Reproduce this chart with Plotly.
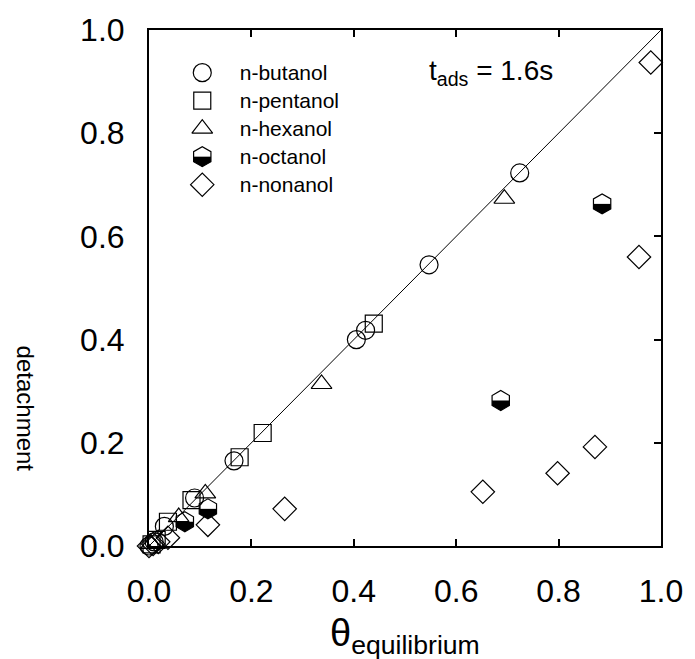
import plotly.graph_objects as go

# ---------------- data ----------------
series_names = ["n-butanol", "n-pentanol", "n-hexanol", "n-octanol", "n-nonanol"]

butanol_x = [0.0, 0.010, 0.030, 0.089, 0.166, 0.405, 0.423, 0.547, 0.724]
butanol_y = [0.0, 0.008, 0.038, 0.093, 0.165, 0.400, 0.418, 0.545, 0.723]

pentanol_x = [0.005, 0.015, 0.037, 0.083, 0.177, 0.222, 0.439]
pentanol_y = [0.003, 0.012, 0.047, 0.089, 0.172, 0.219, 0.431]

hexanol_x = [0.004, 0.058, 0.110, 0.337, 0.694]
hexanol_y = [0.004, 0.056, 0.102, 0.314, 0.673]

octanol_x = [0.070, 0.115, 0.687, 0.885]
octanol_y = [0.047, 0.072, 0.282, 0.663]

nonanol_x = [0.0, 0.008, 0.018, 0.037, 0.115, 0.265, 0.652, 0.798, 0.871, 0.957, 0.980]
nonanol_y = [0.0, 0.004, 0.008, 0.016, 0.041, 0.072, 0.105, 0.141, 0.192, 0.560, 0.937]

diag_x = [0.0, 1.0]
diag_y = [0.0, 1.0]

tick_vals = [0.0, 0.2, 0.4, 0.6, 0.8, 1.0]
tick_text = ["0.0", "0.2", "0.4", "0.6", "0.8", "1.0"]

legend_x = [0]

# ---------------- styling ----------------
FONT = "Arial, 'Liberation Sans', Helvetica, sans-serif"
LW = 1.2
HEX_SIZE = 20          # hexagon vertex radius R = 10
R = HEX_SIZE / 2.0
BAND = R / 2.0         # thickness of black filling strips

fig = go.Figure()


def open_markers(x, y, symbol, size, xa="x", ya="y"):
    fig.add_trace(go.Scatter(
        x=x, y=y, mode="markers", xaxis=xa, yaxis=ya,
        marker=dict(symbol=symbol, size=size, color="black",
                    line=dict(color="black", width=LW)),
        cliponaxis=False, showlegend=False, hoverinfo="skip"))


def half_filled_hexagon(x, y, xa="x", ya="y"):
    # black lower half: a horizontal strip plus two strips along the lower edges
    parts = [
        dict(size=(0.866 * R) / 0.7, angle=0, standoff=R / 4.0),
        dict(size=(R / 2.0) / 0.7, angle=-30, standoff=0.866 * R - BAND / 2.0),
        dict(size=(R / 2.0) / 0.7, angle=30, standoff=0.866 * R - BAND / 2.0),
    ]
    for p in parts:
        fig.add_trace(go.Scatter(
            x=x, y=y, mode="markers", xaxis=xa, yaxis=ya,
            marker=dict(symbol="line-ew", size=p["size"], angle=p["angle"],
                        standoff=p["standoff"], color="black",
                        line=dict(color="black", width=BAND)),
            cliponaxis=False, showlegend=False, hoverinfo="skip"))
    open_markers(x, y, "hexagon-open", HEX_SIZE, xa, ya)


# reference line y = x
fig.add_trace(go.Scatter(x=diag_x, y=diag_y, mode="lines", yaxis="y2",
                         line=dict(color="black", width=1),
                         showlegend=False, hoverinfo="skip"))

# data
open_markers(butanol_x, butanol_y, "circle-open", 18)
open_markers(pentanol_x, pentanol_y, "square-open", 17)
open_markers(hexanol_x, hexanol_y, "triangle-up-open", 18)
half_filled_hexagon(octanol_x, octanol_y)
open_markers(nonanol_x, nonanol_y, "diamond-open", 18)

# legend drawn on a small categorical axis
open_markers(legend_x, [series_names[0]], "circle-open", 18, "x3", "y3")
open_markers(legend_x, [series_names[1]], "square-open", 17, "x3", "y3")
open_markers(legend_x, [series_names[2]], "triangle-up-open", 18, "x3", "y3")
half_filled_hexagon(legend_x, [series_names[3]], "x3", "y3")
open_markers(legend_x, [series_names[4]], "diamond-open", 18, "x3", "y3")

axis_common = dict(range=[0, 1], showgrid=False, zeroline=False,
                   tickvals=tick_vals, ticktext=tick_text,
                   linecolor="black", linewidth=2,
                   tickcolor="black", tickwidth=2, ticklen=7,
                   tickfont=dict(family=FONT, size=32, color="black"))

fig.update_layout(
    width=695, height=659,
    margin=dict(l=149, r=27, t=29, b=113),
    paper_bgcolor="white", plot_bgcolor="white",
    font=dict(family=FONT, color="black"),
    showlegend=False,
    xaxis=dict(**axis_common, ticks="inside", showline=True, mirror="ticks",
               ticklabelstandoff=16),
    yaxis=dict(**axis_common, ticks="", showline=True, mirror=True,
               ticklabelstandoff=16),
    yaxis2=dict(range=[0, 1], overlaying="y", side="right", anchor="x",
                showgrid=False, zeroline=False, showline=False,
                tickvals=tick_vals, ticks="inside", ticklen=7, tickwidth=2,
                tickcolor="black", showticklabels=False),
    xaxis3=dict(domain=[(166 - 149) / 519, (240 - 149) / 519], range=[-1, 1],
                anchor="y3", visible=False, fixedrange=True),
    yaxis3=dict(domain=[(546 - 198.0) / 517, (546 - 57.7) / 517],
                anchor="x3", side="right", type="category",
                categoryorder="array", categoryarray=series_names,
                range=[4.5, -0.5], showgrid=False, zeroline=False,
                showline=False, ticks="", fixedrange=True,
                tickfont=dict(family=FONT, size=21, color="black")),
    annotations=[
        dict(text="t<sub>ads</sub> = 1.6s", xref="paper", yref="paper",
             x=(431 - 149) / 519, y=(546 - 72) / 517, xanchor="left",
             yanchor="middle", showarrow=False,
             font=dict(family=FONT, size=28, color="black")),
        dict(text="detachment", xref="paper", yref="paper",
             x=(24 - 149) / 519, y=(546 - 408) / 517, xanchor="center",
             yanchor="middle", textangle=90, showarrow=False,
             font=dict(family=FONT, size=24, color="black")),
        dict(text="θ<sub>equilibrium</sub>", xref="paper", yref="paper",
             x=0.5, y=(546 - 610) / 517, xanchor="center", yanchor="top",
             showarrow=False, font=dict(family=FONT, size=38, color="black")),
    ],
)

fig.write_html("out.html")
